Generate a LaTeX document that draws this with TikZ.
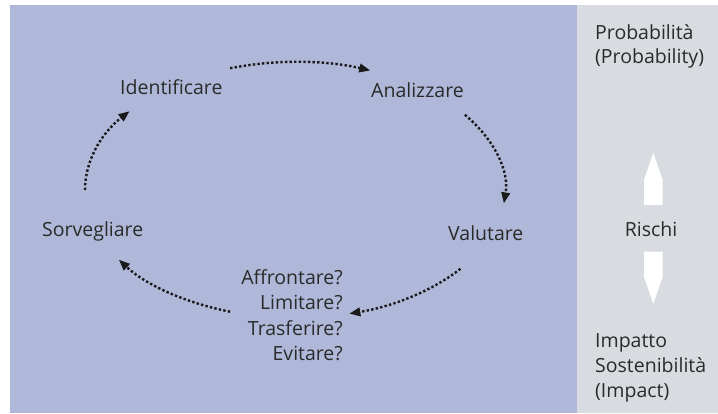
\documentclass[tikz,border=0pt]{standalone}
\usepackage{fontspec}
\setmainfont{Open Sans}
\usetikzlibrary{arrows.meta,calc}
\definecolor{panelblue}{HTML}{AFB8D9}
\definecolor{panelgray}{HTML}{D8DBDF}
\definecolor{ink}{HTML}{2A2A2A}
\definecolor{dotink}{HTML}{1A1A1A}
\begin{document}
\begin{tikzpicture}[x=1pt,y=1pt,
  lbl/.style={inner sep=0pt, text=ink, font=\fontsize{19.5}{25}\selectfont},
  flow/.style={draw=dotink, line width=2.4pt, dash pattern=on 2.4pt off 2.2pt,
    -{Triangle[length=11pt,width=8.5pt]}},
  whitearrow/.style={fill=white, draw=none}]
\useasboundingbox (0,0) rectangle (718,413);
\fill[white] (0,0) rectangle (718,413);
\fill[panelblue] (10,0) rectangle (577,408);
\fill[panelgray] (577,0) rectangle (718,408);

% cycle labels
\node[lbl, anchor=base west] (ident) at (120,318) {Identificare};
\node[lbl, anchor=base west] (anal) at (371,315) {Analizzare};
\node[lbl, anchor=base west] (valu) at (448,172) {Valutare};
\node[lbl, anchor=base west] (sorv) at (42,176) {Sorvegliare};
\node[lbl, anchor=base east] (q1) at (343,129) {Affrontare?};
\node[lbl, anchor=base east] (q2) at (343,103.5) {Limitare?};
\node[lbl, anchor=base east] (q3) at (343,78) {Trasferire?};
\node[lbl, anchor=base east] (q4) at (343,52.5) {Evitare?};

% right panel labels
\node[lbl, anchor=base west] (prob) at (595,373.5) {Probabilità};
\node[lbl, anchor=base west] (probe) at (595,349) {(Probability)};
\node[lbl, anchor=base] (risk) at (651,176) {Rischi};
\node[lbl, anchor=base west] (imp) at (595,66) {Impatto};
\node[lbl, anchor=base west] (sost) at (595,41) {Sostenibilità};
\node[lbl, anchor=base west] (impe) at (595,16) {(Impact)};

% white arrows
\fill[whitearrow] (644,208) -- (644,233) -- (653.3,260) -- (662.7,233) -- (662.7,208) -- cycle;
\fill[whitearrow] (644,161.3) -- (644,136.3) -- (653.3,109) -- (662.7,136.3) -- (662.7,161.3) -- cycle;

% cycle arrows on an ellipse
\coordinate (ctr) at (295,223);
\coordinate (s1) at ($(ctr)+(108:210pt and 128pt)$);
\coordinate (s2) at ($(ctr)+(36:210pt and 128pt)$);
\coordinate (s3) at ($(ctr)+(-38:210pt and 128pt)$);
\coordinate (s4) at ($(ctr)+(-108:210pt and 128pt)$);
\coordinate (s5) at ($(ctr)+(180:210pt and 128pt)$);
\draw[flow] (s1) arc[start angle=108, end angle=69, x radius=210pt, y radius=128pt];
\draw[flow] (s2) arc[start angle=36, end angle=-6, x radius=210pt, y radius=128pt];
\draw[flow] (s3) arc[start angle=-38, end angle=-75, x radius=210pt, y radius=128pt];
\draw[flow] (s4) arc[start angle=-108, end angle=-147, x radius=210pt, y radius=128pt];
\draw[flow] (s5) arc[start angle=180, end angle=142, x radius=210pt, y radius=128pt];
\end{tikzpicture}
\end{document}
